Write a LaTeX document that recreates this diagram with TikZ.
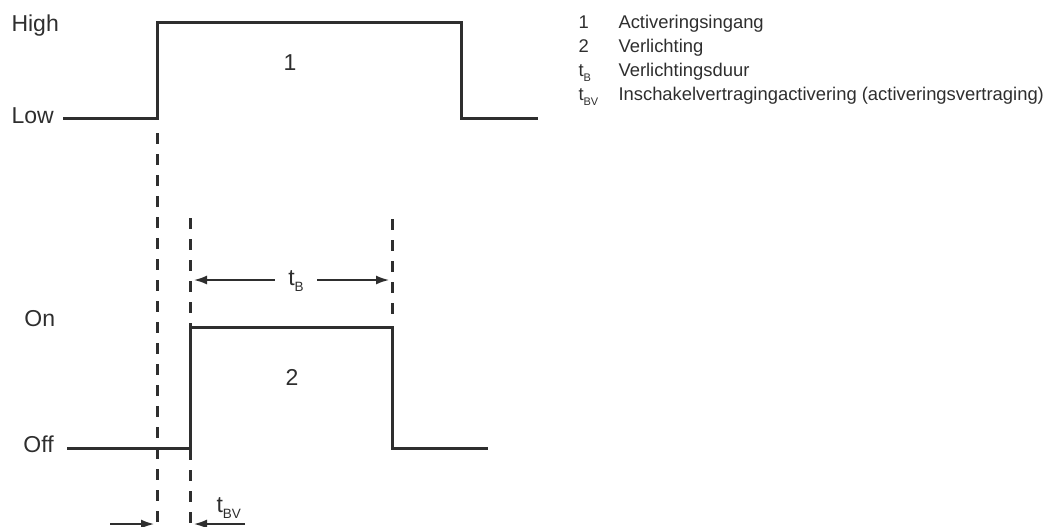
\documentclass[tikz,border=0pt]{standalone}
\usepackage{fontspec}
\setmainfont{Liberation Sans}
\usetikzlibrary{arrows.meta}
\definecolor{ink}{HTML}{2E2E2E}
\newcommand{\tsub}[3]{t\raisebox{-#2}{\fontsize{#3}{#3}\selectfont #1}}
\begin{document}
\begin{tikzpicture}[x=0.5pt,y=-0.5pt,color=ink,line width=1.5pt,
    dashline/.style={dash pattern=on 5.5pt off 5pt},
    dimarrow/.style={line width=0.8pt,-{Latex[length=6.5pt,width=4.5pt]}},
    lvl/.style={anchor=base west,inner sep=0pt,font=\fontsize{11.5}{13}\selectfont},
    leg/.style={anchor=base west,inner sep=0pt,font=\fontsize{9.2}{11}\selectfont}]
    \useasboundingbox (0,0) rectangle (1049,526);
    \coordinate (rise1) at (157,22);
    \coordinate (fall1) at (461,22);
    \coordinate (rise2) at (190,327);
    \coordinate (fall2) at (392,327);
    \draw (63,118) -- (rise1 |- 0,118) -- (rise1) -- (fall1) -- (fall1 |- 0,118) -- (538,118);
    \draw (67,448) -- (rise2 |- 0,448) -- (rise2) -- (fall2) -- (fall2 |- 0,448) -- (488,448);
    \draw[dashline] (157,133) -- (157,540);
    \draw[dashline] (190,218) -- (190,540);
    \draw[dashline] (392,219) -- (392,318);
    \node[lvl] (high) at (10,31) {High};
    \node[lvl] (low) at (10,123) {Low};
    \node[lvl] (on) at (23,326) {On};
    \node[lvl] (off) at (22,452) {Off};
    \node[lvl,anchor=base] (sig1) at (290,70) {1};
    \node[lvl,anchor=base] (sig2) at (292,385) {2};
    \node[lvl,anchor=base,inner xsep=6pt] (tB) at (296,285) {\tsub{B}{3pt}{6.75pt}};
    \coordinate (tBl) at (194,280);
    \coordinate (tBr) at (389,280);
    \draw[dimarrow] (tB.west |- tBl) -- (tBl);
    \draw[dimarrow] (tB.east |- tBr) -- (tBr);
    \node[lvl] (tBV) at (215,512) {\tsub{BV}{3pt}{6.75pt}};
    \coordinate (bvl) at (110,524);
    \coordinate (bvr) at (245,524);
    \draw[dimarrow] (bvl) -- (154,524);
    \draw[dimarrow] (bvr) -- (194,524);
    \foreach \k/\txt [count=\r] in {1/Activeringsingang,2/Verlichting,\tsub{B}{2.5pt}{5.5pt}/Verlichtingsduur,\tsub{BV}{2.5pt}{5.5pt}/{Inschakelvertragingactivering (activeringsvertraging)}}{
        \node[leg] (key\r) at (577,{28+24*(\r-1)}) {\k};
        \node[leg] (txt\r) at (617,{28+24*(\r-1)}) {\txt};
    }
\end{tikzpicture}
\end{document}
